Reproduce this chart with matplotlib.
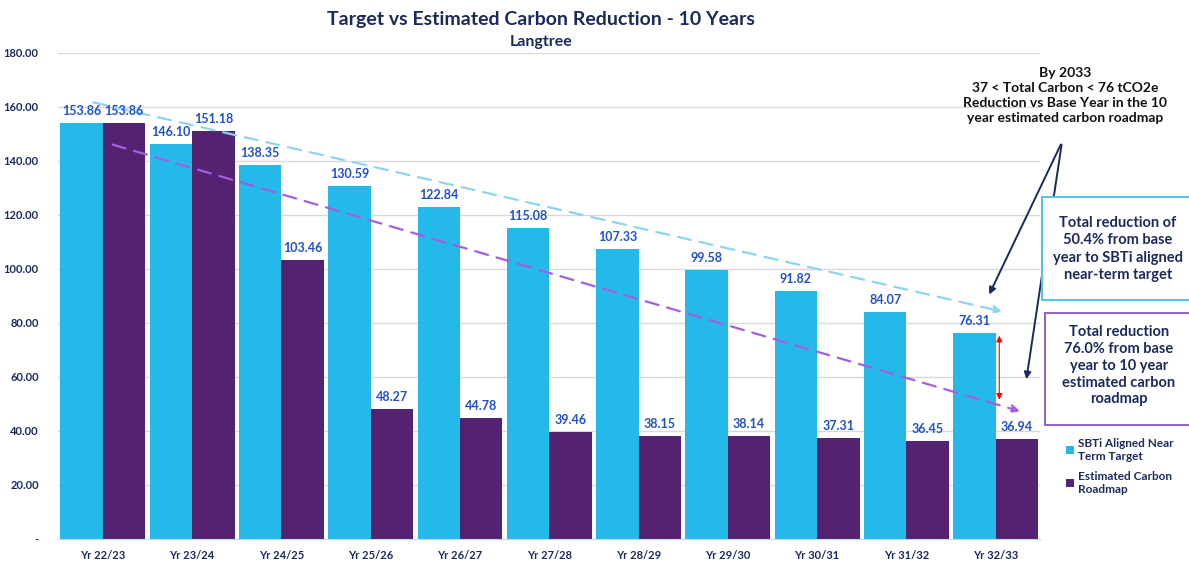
import numpy as np
import matplotlib.pyplot as plt
from matplotlib.patches import FancyArrowPatch, Rectangle

plt.rcParams['font.family'] = ['Lato', 'DejaVu Sans']

years = ["Yr 22/23", "Yr 23/24", "Yr 24/25", "Yr 25/26", "Yr 26/27", "Yr 27/28",
         "Yr 28/29", "Yr 29/30", "Yr 30/31", "Yr 31/32", "Yr 32/33"]
sbti_target = [153.86, 146.10, 138.35, 130.59, 122.84, 115.08, 107.33, 99.58, 91.82, 84.07, 76.31]
roadmap = [153.86, 151.18, 103.46, 48.27, 44.78, 39.46, 38.15, 38.14, 37.31, 36.45, 36.94]

blue = "#25B8EA"
purple = "#552271"
navy = "#1B2A5C"
label_blue = "#2050D0"

fig = plt.figure(figsize=(11.89, 5.62), dpi=100)
ax = fig.add_axes([0.049, 0.041, 0.826, 0.865])

x = np.arange(len(years))
w = 0.475
ax.bar(x - w / 2, sbti_target, w, color=blue, label="SBTi Aligned Near\nTerm Target", zorder=2)
ax.bar(x + w / 2, roadmap, w, color=purple, label="Estimated Carbon\nRoadmap", zorder=2)

for xi, v in zip(x - w / 2, sbti_target):
    ax.text(xi, v + 2.2, f"{v:.2f}", ha="center", va="bottom", fontsize=9,
            fontweight="bold", color=label_blue, zorder=4)
for xi, v in zip(x + w / 2, roadmap):
    ax.text(xi, v + 2.2, f"{v:.2f}", ha="center", va="bottom", fontsize=9,
            fontweight="bold", color=label_blue, zorder=4)

ax.set_xlim(-0.5, len(years) - 0.5)
ax.set_ylim(0, 180)
ax.set_yticks(np.arange(0, 181, 20))
ax.set_yticklabels(["-"] + [f"{v:.2f}" for v in range(20, 181, 20)])
ax.set_xticks(x)
ax.set_xticklabels(years)
for lab in ax.get_xticklabels() + ax.get_yticklabels():
    lab.set_fontweight("bold")
    lab.set_color(navy)
    lab.set_fontsize(8)
ax.tick_params(length=0)
ax.tick_params(axis="y", pad=14)
ax.tick_params(axis="x", pad=8)
ax.grid(axis="y", color="#D9D9D9", linewidth=1, zorder=0)
for s in ["top", "right", "left"]:
    ax.spines[s].set_visible(False)
ax.spines["bottom"].set_color("#BFD9EC")

# dashed trend arrows
tb = FancyArrowPatch((-0.14, 161.9), (10.1, 84), arrowstyle="-|>", mutation_scale=12,
                     color="#8FD3F2", linestyle=(0, (6, 4)), linewidth=1.6, zorder=3)
tp = FancyArrowPatch((0.08, 146.3), (10.3, 47), arrowstyle="-|>", mutation_scale=12,
                     color="#A45EE0", linestyle=(0, (6, 4)), linewidth=1.6, zorder=3)
ax.add_patch(tb)
ax.add_patch(tp)

# red double arrow
ax.annotate("", xy=(10.04, 76.3), xytext=(10.04, 50.5),
            arrowprops=dict(arrowstyle="<|-|>", color="red", lw=0.8, mutation_scale=9), zorder=4)

fig.text(0.455, 0.965, "Target vs Estimated Carbon Reduction - 10 Years", ha="center", va="center",
         fontsize=14, fontweight="bold", color=navy)
fig.text(0.455, 0.925, "Langtree", ha="center", va="center", fontsize=11.5,
         fontweight="bold", color=navy)

fig.text(0.896, 0.83, "By 2033\n37 < Total Carbon < 76 tCO2e\nReduction vs Base Year in the 10\nyear estimated carbon roadmap",
         ha="center", va="center", fontsize=10, fontweight="bold", color="#111111", linespacing=1.3)

start = (1062 / 1189, 1 - 142 / 562)
for end in [(988 / 1189, 1 - 297 / 562), (1026 / 1189, 1 - 382 / 562)]:
    fig.add_artist(FancyArrowPatch(start, end, transform=fig.transFigure, arrowstyle="-|>",
                                   mutation_scale=10, color=navy, linewidth=1.4))

# annotation boxes
fig.add_artist(Rectangle((1042 / 1189, 1 - 300 / 562), 0.2, 103 / 562, transform=fig.transFigure,
                         facecolor="white", edgecolor="#4FC3EF", linewidth=1.4))
fig.add_artist(Rectangle((1045 / 1189, 1 - 425 / 562), 145 / 1189, 112 / 562, transform=fig.transFigure,
                         facecolor="white", edgecolor="#9A5DC8", linewidth=1.4))
fig.text(1118 / 1189, 1 - 249 / 562, "Total reduction of\n50.4% from base\nyear to SBTi aligned\nnear-term target",
         ha="center", va="center", fontsize=10.5, fontweight="bold", color=navy, linespacing=1.3)
fig.text(1119 / 1189, 1 - 366 / 562, "Total reduction\n76.0% from base\nyear to 10 year\nestimated carbon\nroadmap",
         ha="center", va="center", fontsize=10.5, fontweight="bold", color=navy, linespacing=1.25)

leg = fig.legend(loc="upper left", bbox_to_anchor=(0.888, 0.24), frameon=False, fontsize=8.5,
                 handlelength=0.6, handleheight=0.6, handletextpad=0.4, labelspacing=0.8)
for t in leg.get_texts():
    t.set_fontweight("bold")
    t.set_color(navy)

fig.savefig("out.png", dpi=100)
